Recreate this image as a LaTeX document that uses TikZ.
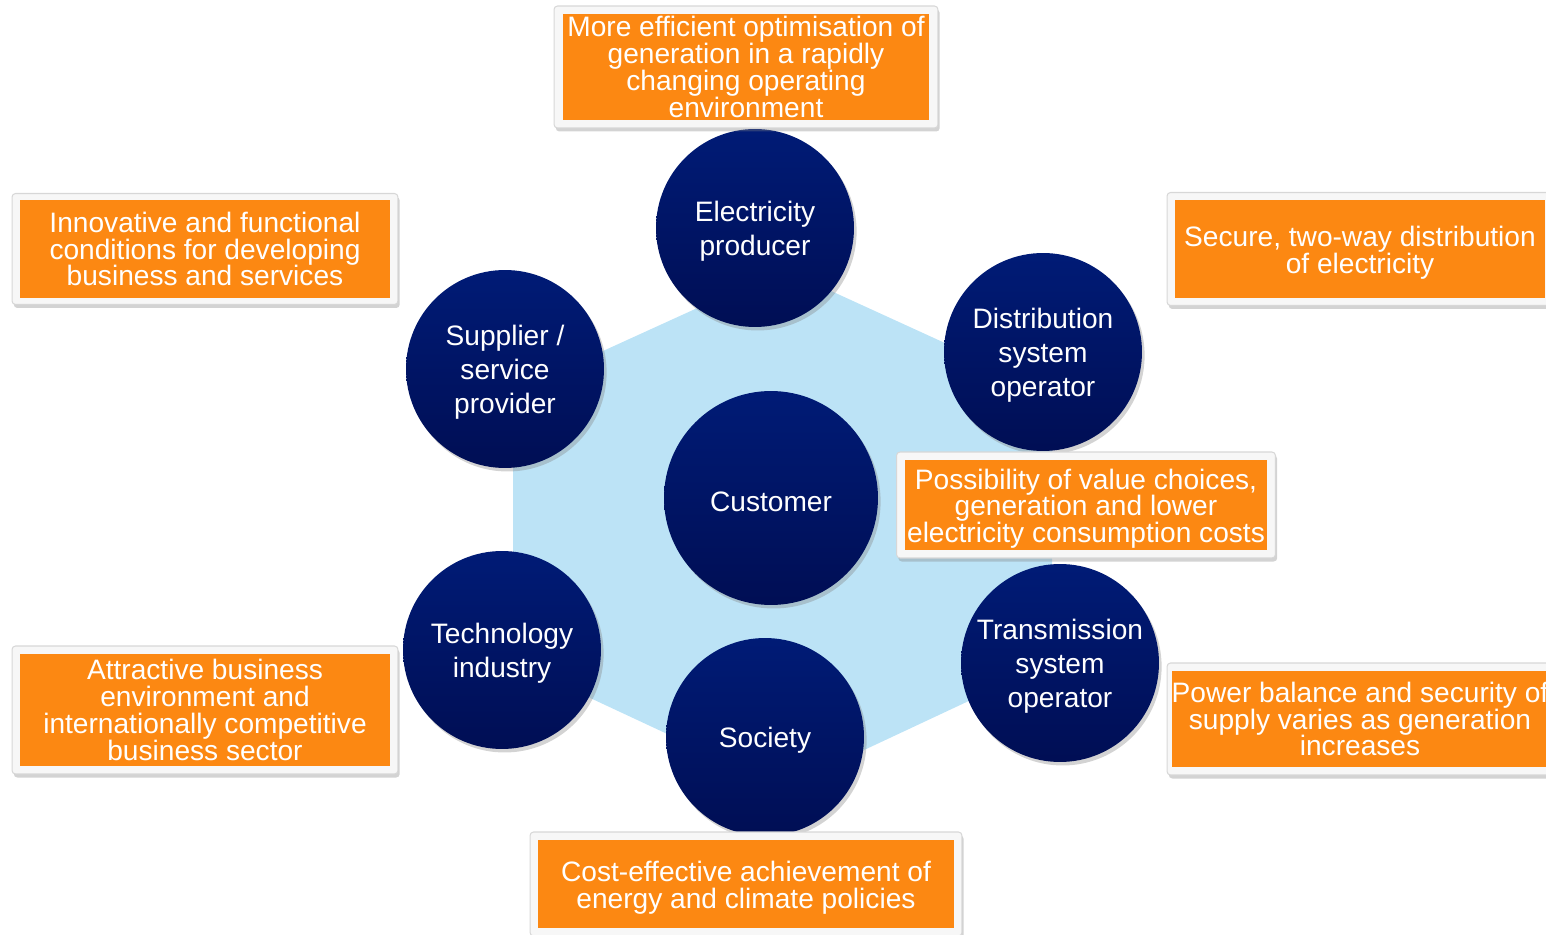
\documentclass[tikz,border=0pt]{standalone}
\usepackage{fontspec}
\setmainfont{Liberation Sans}
\usetikzlibrary{shadows}

\definecolor{hexblue}{RGB}{188,227,246}
\definecolor{navytop}{RGB}{0,27,118}
\definecolor{navybot}{RGB}{0,14,84}
\definecolor{noteorange}{RGB}{252,136,18}
\definecolor{framegray}{RGB}{215,215,215}
\definecolor{framefill}{RGB}{247,247,247}

\tikzset{
    actor/.style={circle, minimum size=3.96cm, inner sep=0pt,
        top color=navytop, bottom color=navybot, text=white, align=center,
        font=\fontsize{16}{19.3}\selectfont, text height=15.6pt,
        drop shadow={shadow xshift=1.5pt, shadow yshift=-2pt, opacity=0.35}},
    % taller text box, so that the lines sit a little lower
    actor2/.style={actor, text height=34.9pt},
    actor3/.style={actor, text height=54.2pt},
    frame/.style={rectangle, rounded corners=2pt, fill=framefill, draw=framegray,
        line width=0.6pt, inner sep=0pt,
        drop shadow={shadow xshift=1pt, shadow yshift=-2pt, opacity=0.35}},
    note/.style={rectangle, fill=noteorange, text=white, align=center,
        inner sep=0pt, font=\fontsize{16}{15.2}\selectfont},
}

\begin{document}
\begin{tikzpicture}[x=0.02cm, y=-0.02cm]
    \useasboundingbox (0,0) rectangle (1546,935);

    % Light blue hexagon behind the actors
    \fill[hexblue] (783,269) -- (1052,392) -- (1052,662) -- (783,788)
        -- (513,662) -- (513,392) -- cycle;

    % Actors
    \node[actor2] (producer) at (755,228) {Electricity\\producer};
    \node[actor3] (supplier) at (505,369) {Supplier /\\service\\provider};
    \node[actor3] (dso) at (1043,352) {Distribution\\system\\operator};
    \node[actor, minimum size=4.28cm] (customer) at (771,498) {Customer};
    \node[actor2] (techind) at (502,650) {Technology\\industry};
    \node[actor] (society) at (765,737) {Society};
    \node[actor3] (tso) at (1060,663) {Transmission\\system\\operator};

    % Goal of the electricity producer
    \node[frame, minimum width=7.68cm, minimum height=2.44cm] (producerF) at (746,67) {};
    \node[note, minimum width=7.34cm, minimum height=2.14cm] (producerN) at (producerF.center)
        {More efficient optimisation of\\generation in a rapidly\\changing operating\\environment};

    % Goal of the supplier
    \node[frame, minimum width=7.72cm, minimum height=2.22cm] (supplierF) at (205,249) {};
    \node[note, minimum width=7.40cm, minimum height=1.96cm] (supplierN) at (supplierF.center)
        {Innovative and functional\\conditions for developing\\business and services};

    % Goal of the distribution operator
    \node[frame, minimum width=7.72cm, minimum height=2.26cm] (dsoF) at (1360,249) {};
    \node[note, text height=30.8pt, minimum width=7.40cm, minimum height=1.96cm] (dsoN) at (dsoF.center)
        {Secure, two-way distribution\\of electricity};

    % Goal of the customer
    \node[frame, minimum width=7.58cm, minimum height=2.12cm] (customerF) at (1086,505) {};
    \node[note, text height=46pt, minimum width=7.24cm, minimum height=1.82cm] (customerN) at (customerF.center)
        {Possibility of value choices,\\generation and lower\\electricity consumption costs};

    % Goal of the technology industry
    \node[frame, minimum width=7.72cm, minimum height=2.56cm] (techindF) at (205,710) {};
    \node[note, minimum width=7.40cm, minimum height=2.26cm] (techindN) at (techindF.center)
        {Attractive business\\environment and\\internationally competitive\\business sector};

    % Goal of the transmission operator
    \node[frame, minimum width=7.72cm, minimum height=2.24cm] (tsoF) at (1360,719) {};
    \node[note, minimum width=7.40cm, minimum height=1.94cm] (tsoN) at (tsoF.center)
        {Power balance and security of\\supply varies as generation\\increases};

    % Goal of society
    \node[frame, minimum width=8.64cm, minimum height=2.08cm] (societyF) at (746,884) {};
    \node[note, text height=30.8pt, minimum width=8.32cm, minimum height=1.78cm] (societyN) at (societyF.center)
        {Cost-effective achievement of\\energy and climate policies};
\end{tikzpicture}
\end{document}
